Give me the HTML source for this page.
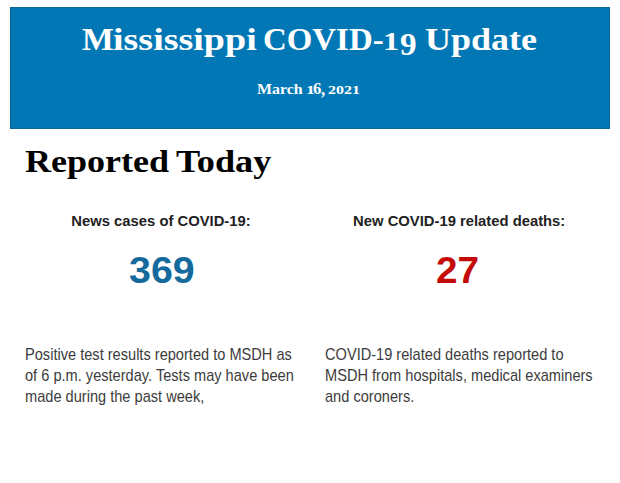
<!DOCTYPE html>
<html>
<head>
<meta charset="utf-8">
<style>
html,body{margin:0;padding:0;background:#fff;width:620px;height:483px;overflow:hidden;}
body{position:relative;font-family:"Liberation Sans",sans-serif;}
.hdr{position:absolute;left:10px;top:7px;width:600px;height:122px;background:#0277b5;box-shadow:inset 0 0 0 1px #0a6798;}
.t{position:absolute;line-height:1;white-space:pre;transform-origin:0 0;font-weight:bold;}
.s{font-family:"Liberation Serif",serif;}
.w{color:#fff;}
.k{color:#000;}
.lab{position:absolute;width:270px;text-align:center;font-weight:bold;font-size:14.8px;line-height:1;color:#222;white-space:nowrap;transform-origin:0 0;transform:scaleY(1.04);}
.num{font-family:"Liberation Sans",sans-serif;font-size:37px;}
.blue{color:#146a9c;}
.red{color:#c50a0a;}
.ln{position:absolute;left:24.5px;font-size:15px;line-height:1;color:#3c3c3c;white-space:pre;transform-origin:0 0;transform:scale(0.973,1.06);}
</style>
</head>
<body>
<div class="hdr"></div>
<span class="t s w" style="font-size:32px;left:82.25px;top:23px;transform:scale(1.054,1)">M</span>
<span class="t s w" style="font-size:32px;left:112.8px;top:23px;transform:scale(1.188,1)">ississippi</span>
<span class="t s w" style="font-size:32px;left:263.14px;top:23px;transform:scale(1.0281,1)">COVID-</span>
<span class="t s w" style="font-size:24px;left:382.91px;top:28.8px;transform:scale(1.3444,1.0733)">1</span>
<span class="t s w" style="font-size:32px;left:399.96px;top:28.2px;transform:scale(1.0357,1)">9</span>
<span class="t s w" style="font-size:32px;left:424.57px;top:23px;transform:scale(1.1255,1)">Update</span>

<span class="t s w" style="font-size:16px;left:257.11px;top:81.6px;transform:scale(0.9932,0.96)">March</span>
<span class="t s w" style="font-size:12px;left:305.62px;top:82.7px;transform:scale(1.475,1.1)">1</span>
<span class="t s w" style="font-size:16px;left:312.86px;top:80.58px;transform:scale(1.0429,1.0091)">6</span>
<span class="t s w" style="font-size:16px;left:321.3px;top:80.2px;transform:scale(1.05,1.12)">,</span>
<span class="t s w" style="font-size:12px;left:328.07px;top:83.57px;transform:scale(1.3318,1.0125)">2021</span>

<span class="t s k" style="font-size:32px;left:25.0px;top:145.3px;transform:scale(1.1255,1)">Reported</span>
<span class="t s k" style="font-size:32px;left:175.87px;top:145.1px;transform:scale(1.1325,1)">Today</span>

<div class="lab" style="left:26px;top:213.6px">News cases of COVID-19:</div>
<div class="lab" style="left:324.2px;top:213.6px">New COVID-19 related deaths:</div>

<span class="t num blue" style="left:128.64px;top:252.22px;transform:scale(1.0633,1.0154)">369</span>
<span class="t num red" style="left:435.85px;top:253.1px;transform:scale(1.0462,0.975)">27</span>

<div class="ln" style="top:346.25px">Positive test results reported to MSDH as</div>
<div class="ln" style="top:367.25px">of 6 p.m. yesterday. Tests may have been</div>
<div class="ln" style="top:388.25px">made during the past week,</div>
<div class="ln" style="left:324.5px;top:346.25px">COVID-19 related deaths reported to</div>
<div class="ln" style="left:324.5px;top:367.25px">MSDH from hospitals, medical examiners</div>
<div class="ln" style="left:324.5px;top:388.25px">and coroners.</div>
</body>
</html>
